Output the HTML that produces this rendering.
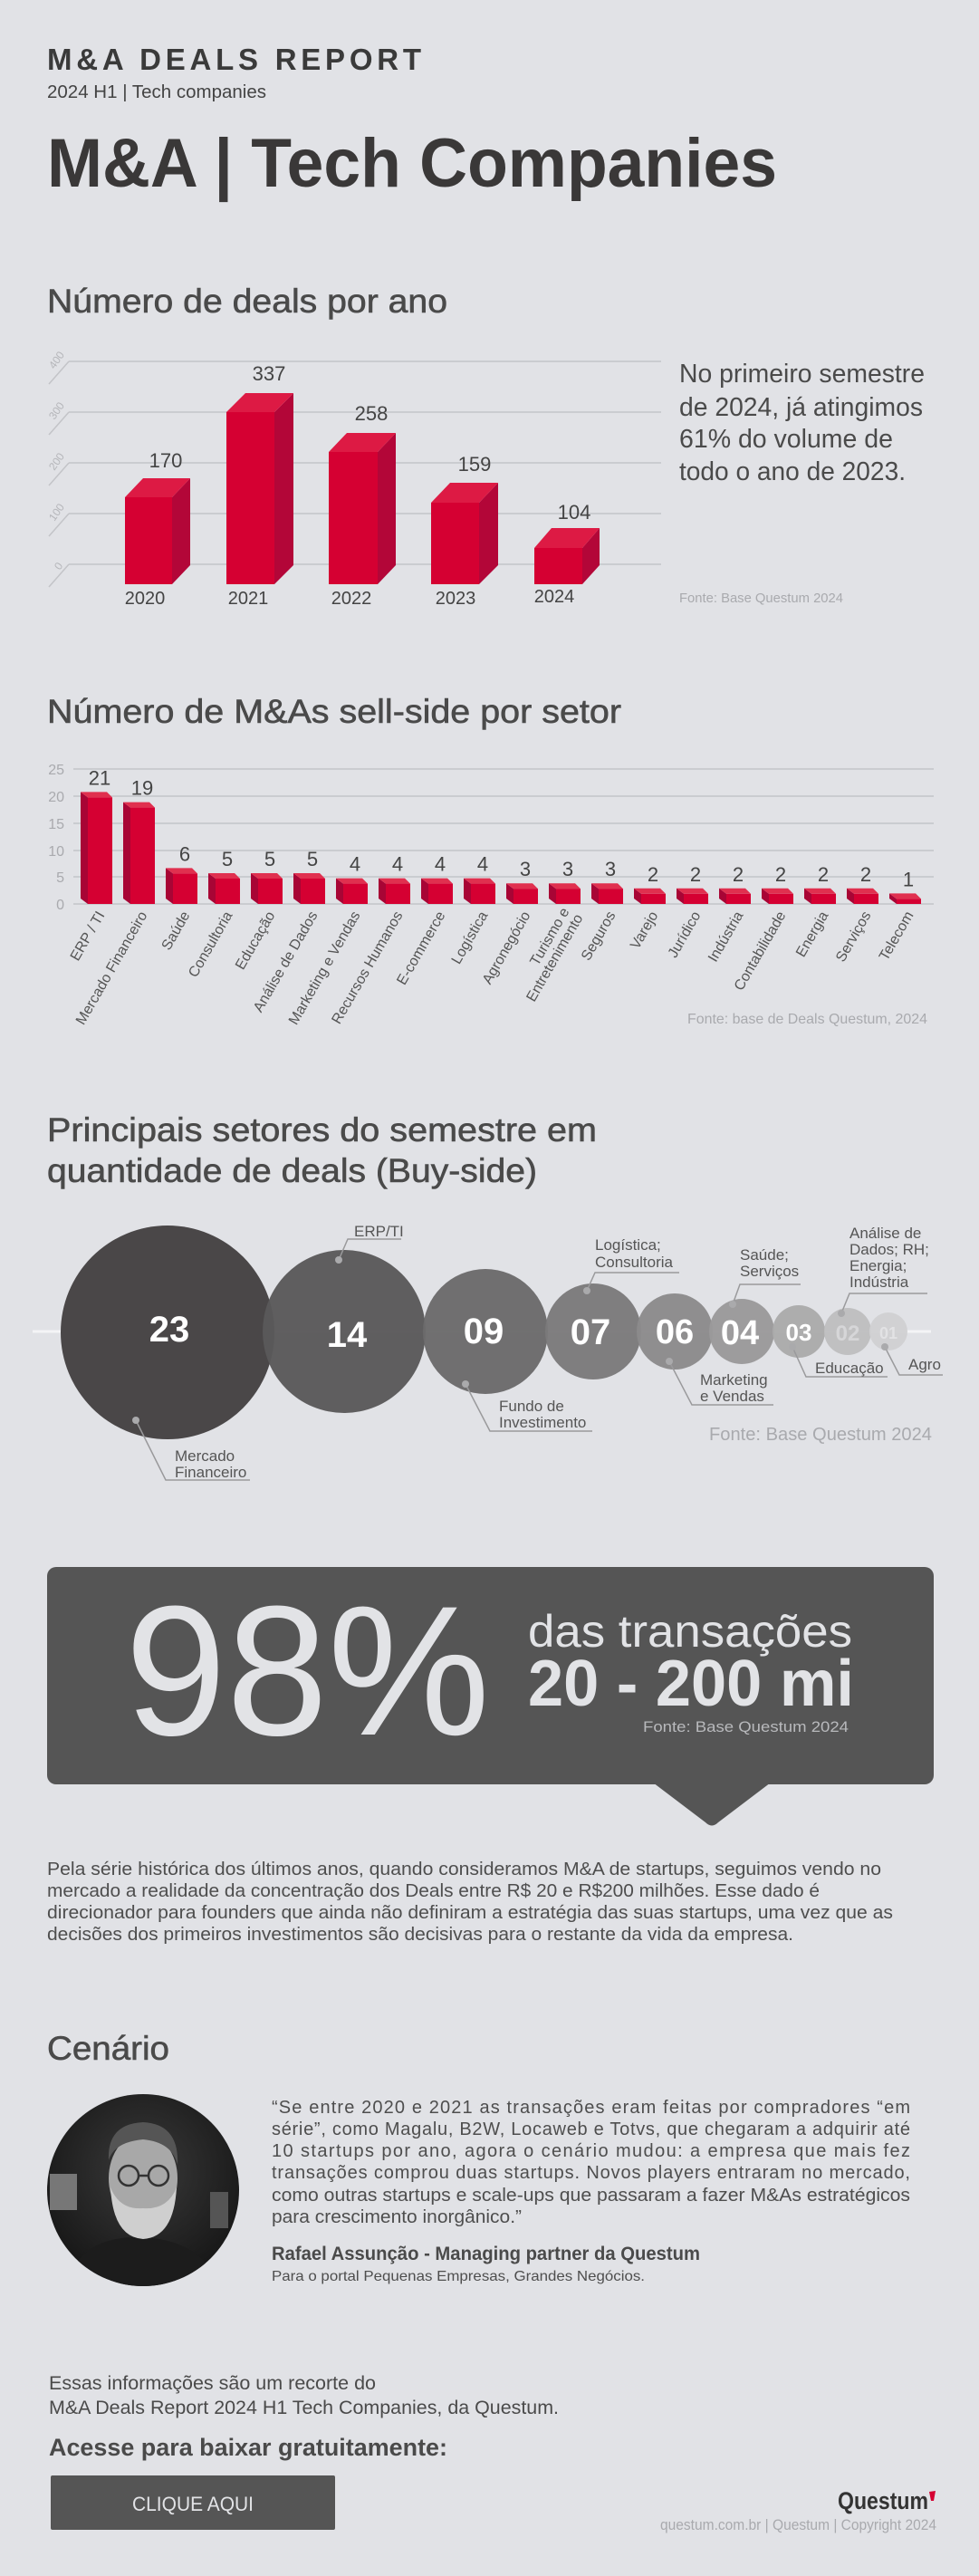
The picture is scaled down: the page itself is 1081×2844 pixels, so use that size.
<!DOCTYPE html>
<html><head><meta charset="utf-8"><style>
html,body{margin:0;padding:0;background:#e1e2e6;}
svg{display:block;}
text{font-family:"Liberation Sans",sans-serif;}
.h{stroke:#4a4a4a;stroke-width:0.6;}
</style></head><body>
<svg width="1081" height="2844" viewBox="0 0 1081 2844" xmlns="http://www.w3.org/2000/svg">
<rect width="1081" height="2844" fill="#e1e2e6"/>
<!-- Header -->
<text x="52" y="77" font-size="33" font-weight="bold" fill="#3a3a3a" textLength="413" lengthAdjust="spacing">M&amp;A DEALS REPORT</text>
<text x="52" y="108" font-size="20" fill="#444" textLength="242" lengthAdjust="spacingAndGlyphs">2024 H1 | Tech companies</text>
<text x="52" y="206" font-size="76" font-weight="bold" fill="#3a3838" textLength="806" lengthAdjust="spacingAndGlyphs">M&amp;A | Tech Companies</text>

<!-- Section 1 -->
<text class="h" x="52" y="345" font-size="37" fill="#4a4a4a" textLength="442" lengthAdjust="spacingAndGlyphs">Número de deals por ano</text>
<g stroke="#c3c4c8" stroke-width="1.5">
<line x1="76" y1="399" x2="730" y2="399"/><line x1="76" y1="455" x2="730" y2="455"/><line x1="76" y1="511" x2="730" y2="511"/><line x1="76" y1="567" x2="730" y2="567"/><line x1="76" y1="623" x2="730" y2="623"/>
<line x1="76" y1="399" x2="54" y2="424"/><line x1="76" y1="455" x2="54" y2="480"/><line x1="76" y1="511" x2="54" y2="536"/><line x1="76" y1="567" x2="54" y2="592"/><line x1="76" y1="623" x2="54" y2="648"/>
</g>
<g font-size="12" fill="#b5b6ba">
<text transform="translate(60,408) rotate(-55)">400</text>
<text transform="translate(60,464) rotate(-55)">300</text>
<text transform="translate(60,520) rotate(-55)">200</text>
<text transform="translate(60,576) rotate(-55)">100</text>
<text transform="translate(66,630) rotate(-55)">0</text>
</g>
<g>
<polygon points="190,549 210,528 210,624 190,645" fill="#b30638"/>
<polygon points="138,549 158,528 210,528 190,549" fill="#dd1a44"/>
<rect x="138" y="549" width="52" height="96" fill="#d50032"/>
<polygon points="303,455 324,434 324,624 303,645" fill="#b30638"/>
<polygon points="250,455 271,434 324,434 303,455" fill="#dd1a44"/>
<rect x="250" y="455" width="53" height="190" fill="#d50032"/>
<polygon points="417,499 437,478 437,624 417,645" fill="#b30638"/>
<polygon points="363,499 383,478 437,478 417,499" fill="#dd1a44"/>
<rect x="363" y="499" width="54" height="146" fill="#d50032"/>
<polygon points="529,555 550,533 550,624 529,645" fill="#b30638"/>
<polygon points="476,555 497,533 550,533 529,555" fill="#dd1a44"/>
<rect x="476" y="555" width="53" height="90" fill="#d50032"/>
<polygon points="643,605 662,583 662,624 643,645" fill="#b30638"/>
<polygon points="590,605 609,583 662,583 643,605" fill="#dd1a44"/>
<rect x="590" y="605" width="53" height="40" fill="#d50032"/>
</g>
<g font-size="22" fill="#444" text-anchor="middle">
<text x="183" y="516">170</text><text x="297" y="420">337</text><text x="410" y="464">258</text><text x="524" y="520">159</text><text x="634" y="573">104</text>
</g>
<g font-size="20" fill="#444" text-anchor="middle">
<text x="160" y="667">2020</text><text x="274" y="667">2021</text><text x="388" y="667">2022</text><text x="503" y="667">2023</text><text x="612" y="665">2024</text>
</g>
<g font-size="29" fill="#4a4a4a">
<text x="750" y="422" textLength="271" lengthAdjust="spacingAndGlyphs">No primeiro semestre</text>
<text x="750" y="459" textLength="269" lengthAdjust="spacingAndGlyphs">de 2024, já atingimos</text>
<text x="750" y="494" textLength="236" lengthAdjust="spacingAndGlyphs">61% do volume de</text>
<text x="750" y="530" textLength="250" lengthAdjust="spacingAndGlyphs">todo o ano de 2023.</text>
</g>
<text x="750" y="665" font-size="15" fill="#a9aaae" textLength="181" lengthAdjust="spacingAndGlyphs">Fonte:  Base Questum 2024</text>

<!-- Section 2 -->
<text class="h" x="52" y="798" font-size="37" fill="#4a4a4a" textLength="634" lengthAdjust="spacingAndGlyphs">Número de M&amp;As sell-side por setor</text>
<g stroke="#c3c4c8" stroke-width="1.5">
<line x1="81" y1="849" x2="1031" y2="849"/><line x1="81" y1="879" x2="1031" y2="879"/><line x1="81" y1="909" x2="1031" y2="909"/><line x1="81" y1="939" x2="1031" y2="939"/><line x1="81" y1="968" x2="1031" y2="968"/><line x1="81" y1="998" x2="1031" y2="998"/>
</g>
<g font-size="16" fill="#a9aaae" text-anchor="end">
<text x="71" y="855">25</text><text x="71" y="885">20</text><text x="71" y="915">15</text><text x="71" y="945">10</text><text x="71" y="974">5</text><text x="71" y="1004">0</text>
</g>
<g id="bars2"></g>
<g id="labels2" font-size="16" fill="#555"></g>
<text x="1024" y="1130" font-size="16" fill="#a9aaae" text-anchor="end" textLength="265" lengthAdjust="spacingAndGlyphs">Fonte: base de Deals Questum, 2024</text>

<!-- Section 3 -->
<text class="h" x="52" y="1260" font-size="37" fill="#4a4a4a" textLength="607" lengthAdjust="spacingAndGlyphs">Principais setores do semestre em</text>
<text class="h" x="52" y="1305" font-size="37" fill="#4a4a4a" textLength="541" lengthAdjust="spacingAndGlyphs">quantidade de deals (Buy-side)</text>
<line x1="36" y1="1470" x2="1028" y2="1470" stroke="#f4f4f6" stroke-width="3"/>
<circle cx="185" cy="1471" r="118" fill="#4a4748"/>
<circle cx="380" cy="1470" r="90" fill="#5a5859" fill-opacity="0.96"/>
<circle cx="536" cy="1470" r="69" fill="#6b6a6b" fill-opacity="0.96"/>
<circle cx="655" cy="1470" r="53" fill="#7b7a7b" fill-opacity="0.96"/>
<circle cx="745" cy="1470" r="42" fill="#8b8a8b" fill-opacity="0.96"/>
<circle cx="819" cy="1470" r="36" fill="#9a999a" fill-opacity="0.96"/>
<circle cx="882" cy="1470" r="29" fill="#ababab" fill-opacity="0.96"/>
<circle cx="936" cy="1470" r="26" fill="#bebebf" fill-opacity="0.96"/>
<circle cx="981" cy="1470" r="21" fill="#d0d0d2" fill-opacity="0.96"/>
<g font-weight="bold" fill="#ffffff" text-anchor="middle">
<text x="187" y="1481" font-size="40">23</text>
<text x="383" y="1487" font-size="40">14</text>
<text x="534" y="1483" font-size="40">09</text>
<text x="652" y="1484" font-size="40">07</text>
<text x="745" y="1483" font-size="38">06</text>
<text x="817" y="1484" font-size="38">04</text>
<text x="882" y="1480" font-size="26">03</text>
<text x="936" y="1480" font-size="24" fill="#d6d6d8">02</text>
<text x="981" y="1478" font-size="18" fill="#e2e2e4">01</text>
</g>
<g stroke="#9a9a9c" stroke-width="1.5" fill="none">
<polyline points="374,1391 384,1368 443,1368"/>
<polyline points="648,1425 657,1405 750,1405"/>
<polyline points="809,1440 817,1418 884,1418"/>
<polyline points="929,1450 938,1428 1024,1428"/>
<polyline points="150,1568 183,1634 276,1634"/>
<polyline points="514,1528 541,1580 654,1580"/>
<polyline points="739,1503 764,1551 854,1551"/>
<polyline points="875,1487 890,1520 980,1520"/>
<polyline points="977,1487 993,1518 1041,1518"/>
</g>
<g fill="#aaaaac">
<circle cx="374" cy="1391" r="4"/><circle cx="648" cy="1425" r="4"/><circle cx="809" cy="1440" r="4"/><circle cx="929" cy="1450" r="4"/>
<circle cx="150" cy="1568" r="4"/><circle cx="514" cy="1528" r="4"/><circle cx="739" cy="1503" r="4"/><circle cx="875" cy="1487" r="4"/><circle cx="977" cy="1487" r="4"/>
</g>
<g font-size="17" fill="#555">
<text x="391" y="1365">ERP/TI</text>
<text x="657" y="1380">Logística;</text><text x="657" y="1399">Consultoria</text>
<text x="817" y="1391">Saúde;</text><text x="817" y="1409">Serviços</text>
<text x="938" y="1367">Análise de</text><text x="938" y="1385">Dados; RH;</text><text x="938" y="1403">Energia;</text><text x="938" y="1421">Indústria</text>
<text x="193" y="1613">Mercado</text><text x="193" y="1631">Financeiro</text>
<text x="551" y="1558">Fundo de</text><text x="551" y="1576">Investimento</text>
<text x="773" y="1529">Marketing</text><text x="773" y="1547">e Vendas</text>
<text x="900" y="1516">Educação</text>
<text x="1003" y="1512">Agro</text>
</g>
<text x="783" y="1590" font-size="20" fill="#a9aaae" textLength="246" lengthAdjust="spacingAndGlyphs">Fonte:  Base Questum 2024</text>

<!-- Section 4 -->
<rect x="52" y="1730" width="979" height="240" rx="10" fill="#555555"/>
<path d="M717,1965 L855,1965 L793,2012 Q786,2019 779,2012 Z" fill="#555555"/>
<text x="138" y="1915" font-size="204" fill="#e2e3e6" textLength="403" lengthAdjust="spacingAndGlyphs">98%</text>
<text x="583" y="1818" font-size="50" fill="#e2e3e6" textLength="358" lengthAdjust="spacingAndGlyphs">das transações</text>
<text x="583" y="1883" font-size="72" font-weight="bold" fill="#e2e3e6" textLength="360" lengthAdjust="spacingAndGlyphs">20 - 200 mi</text>
<text x="710" y="1912" font-size="17" fill="#b8b9bc" textLength="227" lengthAdjust="spacingAndGlyphs">Fonte:  Base Questum 2024</text>
<g font-size="20" fill="#4e4e4e">
<text x="52" y="2070" textLength="921" lengthAdjust="spacingAndGlyphs">Pela série histórica dos últimos anos, quando consideramos M&amp;A de startups, seguimos vendo no</text>
<text x="52" y="2094" textLength="853" lengthAdjust="spacingAndGlyphs">mercado a realidade da concentração dos Deals entre R$ 20 e R$200 milhões. Esse dado é</text>
<text x="52" y="2118" textLength="934" lengthAdjust="spacingAndGlyphs">direcionador para founders que ainda não definiram a estratégia das suas startups, uma vez que as</text>
<text x="52" y="2142" textLength="824" lengthAdjust="spacingAndGlyphs">decisões dos primeiros investimentos são decisivas para o restante da vida da empresa.</text>
</g>

<!-- Section 5 -->
<text class="h" x="52" y="2274" font-size="37" fill="#4a4a4a" textLength="135" lengthAdjust="spacingAndGlyphs">Cenário</text>
<defs>
<clipPath id="pc"><circle cx="158" cy="2418" r="106"/></clipPath>
<radialGradient id="bg" cx="0.5" cy="0.4" r="0.7"><stop offset="0" stop-color="#3a3a3a"/><stop offset="1" stop-color="#111"/></radialGradient>
</defs>
<g clip-path="url(#pc)">
<rect x="52" y="2312" width="212" height="212" fill="url(#bg)"/>
<rect x="55" y="2400" width="30" height="40" fill="#777"/>
<rect x="232" y="2420" width="20" height="40" fill="#555"/>
<path d="M70,2530 Q85,2470 150,2470 Q225,2470 245,2530 Z" fill="#1c1c1c"/>
<ellipse cx="158" cy="2405" rx="38" ry="50" fill="#a8a8a8"/>
<path d="M120,2385 Q118,2345 158,2343 Q198,2345 196,2390 Q190,2365 158,2362 Q126,2365 120,2385 Z" fill="#555"/>
<path d="M122,2415 Q125,2470 158,2472 Q192,2470 195,2415 Q185,2440 158,2438 Q132,2440 122,2415 Z" fill="#cfcfcf"/>
<g stroke="#333" stroke-width="2.5" fill="none"><circle cx="142" cy="2402" r="11"/><circle cx="175" cy="2402" r="11"/><line x1="153" y1="2402" x2="164" y2="2402"/></g>
</g>
<g font-size="20" fill="#4e4e4e">
<text x="300" y="2333" textLength="705" lengthAdjust="spacing">“Se entre 2020 e 2021 as transações eram feitas por compradores “em</text>
<text x="300" y="2357" textLength="705" lengthAdjust="spacing">série”, como Magalu, B2W, Locaweb e Totvs, que chegaram a adquirir até</text>
<text x="300" y="2381" textLength="705" lengthAdjust="spacing">10 startups por ano, agora o cenário mudou: a empresa que mais fez</text>
<text x="300" y="2405" textLength="705" lengthAdjust="spacing">transações comprou duas startups. Novos players entraram no mercado,</text>
<text x="300" y="2430" textLength="705" lengthAdjust="spacingAndGlyphs">como outras startups e scale-ups que passaram a fazer M&amp;As estratégicos</text>
<text x="300" y="2454" textLength="276" lengthAdjust="spacingAndGlyphs">para crescimento inorgânico.”</text>
</g>
<text x="300" y="2495" font-size="21" font-weight="bold" fill="#4a4a4a" textLength="473" lengthAdjust="spacingAndGlyphs">Rafael Assunção - Managing partner da Questum</text>
<text x="300" y="2518" font-size="16" fill="#4e4e4e" textLength="412" lengthAdjust="spacingAndGlyphs">Para o portal Pequenas Empresas, Grandes Negócios.</text>
<g font-size="21" fill="#4a4a4a">
<text x="54" y="2638" textLength="361" lengthAdjust="spacingAndGlyphs">Essas informações são um recorte do</text>
<text x="54" y="2665" textLength="563" lengthAdjust="spacingAndGlyphs">M&amp;A Deals Report 2024 H1 Tech Companies, da Questum.</text>
</g>
<text x="54" y="2711" font-size="27" font-weight="bold" fill="#4a4a4a" textLength="440" lengthAdjust="spacingAndGlyphs">Acesse para baixar gratuitamente:</text>
<rect x="56" y="2733" width="314" height="60" rx="2" fill="#555555"/>
<text x="213" y="2772" font-size="22" fill="#e2e3e6" text-anchor="middle" textLength="134" lengthAdjust="spacingAndGlyphs">CLIQUE AQUI</text>
<text x="1025" y="2770" font-size="27" font-weight="bold" fill="#333" text-anchor="end" textLength="100" lengthAdjust="spacingAndGlyphs">Questum</text>
<path d="M1026,2751 L1033,2750 L1031,2761 L1028,2761 Z" fill="#d50032"/>
<text x="1034" y="2793" font-size="17" fill="#a9aaae" text-anchor="end" textLength="305" lengthAdjust="spacingAndGlyphs">questum.com.br | Questum | Copyright 2024</text>
</svg>
<script>
(function(){
var ns="http://www.w3.org/2000/svg";
var vals=[21,19,6,5,5,5,4,4,4,4,3,3,3,2,2,2,2,2,2,1];
var labs=["ERP / TI","Mercado Financeiro","Saúde","Consultoria","Educação","Análise de Dados","Marketing e Vendas","Recursos Humanos","E-commerce","Logística","Agronegócio","Turismo e|Entretenimento","Seguros","Varejo","Jurídico","Indústria","Contabilidade","Energia","Serviços","Telecom"];
var gb=document.getElementById("bars2"),gl=document.getElementById("labels2");
function el(t,a,p,txt){var e=document.createElementNS(ns,t);for(var k in a)e.setAttribute(k,a[k]);if(txt)e.textContent=txt;p.appendChild(e);return e;}
for(var i=0;i<20;i++){
 var cx=110+i*47, top=998-vals[i]*5.6, x0=cx-13, x1=cx+14;
 el("polygon",{points:(x0-8)+","+(top-6)+" "+x0+","+top+" "+x0+",998 "+(x0-8)+",992",fill:"#a80535"},gb);
 el("polygon",{points:(x0-8)+","+(top-6)+" "+(x1-6)+","+(top-6)+" "+x1+","+top+" "+x0+","+top,fill:"#e0304f"},gb);
 el("rect",{x:x0,y:top,width:x1-x0,height:998-top,fill:"#d50032"},gb);
 el("text",{x:cx,y:top-14,"font-size":22,fill:"#444","text-anchor":"middle"},gb,String(vals[i]));
 var parts=labs[i].split("|");
 if(parts.length==1){
  el("text",{transform:"translate("+(cx+6)+",1010) rotate(-60)","text-anchor":"end"},gl,parts[0]);
 }else{
  el("text",{transform:"translate("+(cx+2)+",1006) rotate(-60)","text-anchor":"end"},gl,parts[0]);
  el("text",{transform:"translate("+(cx+17)+",1013) rotate(-60)","text-anchor":"end"},gl,parts[1]);
 }
}
})();
</script>
</body></html>
